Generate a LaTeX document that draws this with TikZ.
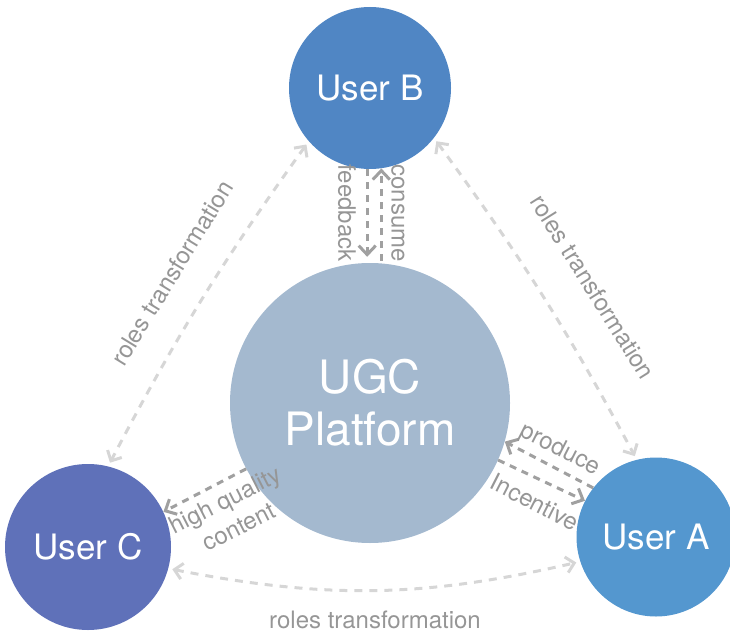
\documentclass[tikz,border=0pt]{standalone}
\usepackage{fontspec}
\setmainfont{TeX Gyre Heros}
\usetikzlibrary{arrows.meta}

\definecolor{userBfill}{RGB}{80,134,196}
\definecolor{userAfill}{RGB}{84,151,207}
\definecolor{userCfill}{RGB}{95,113,185}
\definecolor{ugcfill}{RGB}{164,185,207}
\definecolor{flowgray}{RGB}{160,160,160}
\definecolor{rolegray}{RGB}{214,214,214}
\definecolor{lblgray}{RGB}{150,150,150}

\begin{document}
\begin{tikzpicture}[x=1pt,y=1pt]
            \tikzstyle{user}=[circle, inner sep=0pt, text=white,
            font=\fontsize{35}{40}\selectfont]
            \tikzstyle{flow}=[draw=flowgray, line width=3pt,
            dash pattern=on 7pt off 6pt,
            -{Straight Barb[length=9pt, width=17pt]}]
            \tikzstyle{roles}=[draw=rolegray, line width=3pt,
            dash pattern=on 8pt off 7pt, shorten <=4pt, shorten >=4pt,
            {Straight Barb[length=8pt, width=16pt]}-{Straight Barb[length=8pt, width=16pt]}]
            \tikzstyle{lbl}=[text=lblgray, inner sep=0pt,
            font=\fontsize{24}{30}\selectfont]
            \useasboundingbox (0,0) rectangle (730,633);

            \node[user, fill=userBfill, minimum size=162] (userB) at (370,545) {User B};
            \node[user, fill=userAfill, minimum size=159] (userA) at (656,96) {User A};
            \node[user, fill=userCfill, minimum size=166] (userC) at (88,86) {User C};
            \node[circle, fill=ugcfill, minimum size=280, inner sep=0pt, text=white,
            align=center, font=\fontsize{46}{52}\selectfont] (ugc) at (370,230) {UGC\\Platform};

            % platform <-> users
            \draw[flow, shorten >=6pt] (userB.268) -- (userB.268 |- ugc.north);
            \draw[flow, shorten <=2pt] (userB.278 |- ugc.north) -- (userB.278);
            \draw[flow] (userA.142) -- (ugc.344);
            \draw[flow] (ugc.336) -- (userA.153);
            \draw[flow] (ugc.208) -- (userC.25);

            \node[lbl, rotate=-90] at (347,420) {feedback};
            \node[lbl, rotate=-90] at (398,420) {consume};
            \node[lbl, rotate=-27] at (560,183) {produce};
            \node[lbl, rotate=-27] at (535,131) {Incentive};
            \node[lbl, rotate=27, align=center] at (232,120) {high quality\\content};

            % roles between users
            \path[roles] (userB.221) to[bend right=4] (userC.76);
            \path[roles] (userB.322) to[bend left=4] (userA.104);
            \path[roles] (userC.345) to[bend right=12] (userA.198);

            \node[lbl, rotate=58.5] at (172,360) {roles transformation};
            \node[lbl, rotate=-58] at (593,346) {roles transformation};
            \node[lbl] at (375,13) {roles transformation};
        \end{tikzpicture}
\end{document}
